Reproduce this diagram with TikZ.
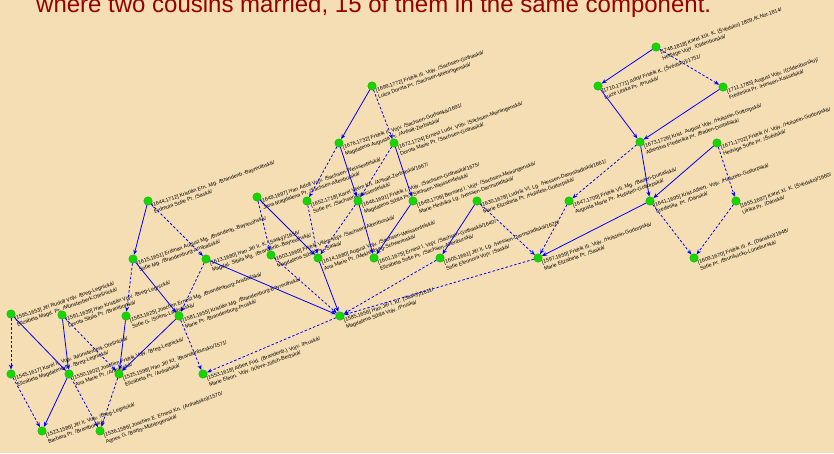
\documentclass[tikz,border=0pt]{standalone}
\usepackage{fontspec}
\setmainfont{Liberation Sans}
\usetikzlibrary{arrows.meta}
\definecolor{bg}{RGB}{245,222,179}
\definecolor{titlered}{RGB}{150,0,0}
\definecolor{dotgreen}{RGB}{20,215,0}
\definecolor{edgeblue}{RGB}{0,0,255}
\tikzset{
  person/.style={circle, fill=dotgreen, draw=dotgreen!75!black, line width=0.3pt, inner sep=0pt, minimum size=8.5pt},
  plabel/.style={anchor=north west, rotate=19.5, inner sep=0pt, align=left, font=\fontsize{5.3}{6.6}\selectfont},
  father/.style={draw=edgeblue, line width=0.8pt, -{Stealth[length=5pt,width=4pt]}},
  wife/.style={father, dash pattern=on 2.5pt off 2pt},
}
\newcommand{\pers}[5]{%
  \node[person] (#1) at (#2,#3) {};
  \node[plabel] (#1l) at (#2+3,#3+2.5) {#4\\#5};
}
\begin{document}
\begin{tikzpicture}[x=1pt,y=-1pt]
\fill[bg] (0,0) rectangle (834,453);
\useasboundingbox (0,0) rectangle (834,453);
\node[anchor=base west, inner sep=0pt, text=titlered, font=\fontsize{24}{24}\selectfont] (title) at (36,12) {where two cousins married, 15 of them in the same component.};

\pers{n1}{656}{47}{[1748,1818] Karel XIII. K. (Švédsko) 1809,/K.Nor.1814/}{Hedvige Vojv. /Oldenburská/}
\pers{n2}{598}{86}{[1710,1771] Adolf Fridrik K. (Švédsko)/1751/}{Luize Ulrika Pr. /Pruská/}
\pers{n3}{723}{87}{[1711,1785] August Vojv. /(Oldenbursko)/}{Frederika Pr. /Hessen-Kasselská/}
\pers{n4}{372}{86}{[1699,1772] Fridrik III. Vojv. /Sachsen-Gothaská/}{Luiza Dorota Pr. /Sachsen-Meiningenská/}
\pers{n5}{339}{143}{[1676,1732] Fridrik II. Vojv. /Sachsen-Gothaská/1691/}{Magdalena Augusta Pr. /Anhalt-Zerbstská/}
\pers{n6}{394}{143}{[1672,1724] Ernest Ludv. Vojv. /Sachsen-Meiningenská/}{Dorota Marie Pr. /Sachsen-Gothaská/}
\pers{n7}{640}{142}{[1673,1726] Krist. August Vojv. /Holstein-Gottorpská/}{Albertina Frederika Pr. /Baden-Durlašská/}
\pers{n8}{717}{143}{[1671,1702] Fridrik IV. Vojv. /Holstein-Gottorpská/}{Hedviga Sofie Pr. /Švédská/}
\pers{n9}{148}{201}{[1644,1712] Kristián Ern. Mg. /Brandenb.-Bayreuthská/}{Erdmuta Sofie Pr. /Saská/}
\pers{n10}{257}{197}{[1649,1697] Ivan Adolf Vojv. /Sachsen-Weissenfelská/}{Jana Magdalena Pr. /Sachsen-Altenburská/}
\pers{n11}{307}{201}{[1652,1718] Karel Vilém Kn. /Anhalt-Zerbstská/1667/}{Sofie Pr. /Sachsen-Weissenfelská/}
\pers{n12}{358}{201}{[1646,1691] Fridrik I. Vojv. /Sachsen-Gothaská/1675/}{Magdalena Sibila Pr. /Sachsen-Weissenfelská/}
\pers{n13}{413}{201}{[1649,1706] Bernard I. Vojv. /Sachsen-Meiningenská/}{Marie Hedvika Lg. /Hessen-Darmstadtská/}
\pers{n14}{477}{201}{[1630,1678] Ludvík VI. Lg. /Hessen-Darmstadtská/1661/}{Marie Elizabeta Pr. /Holstein-Gottorpská/}
\pers{n15}{569}{201}{[1647,1709] Fridrik VII. Mg. /Baden-Durlašská/}{Augusta Marie Pr. /Holstein-Gottorpská/}
\pers{n16}{650}{201}{[1641,1695] Krist.Albert. Vojv. /Holstein-Gottorpská/}{Frederika \ Pr. /Dánská/}
\pers{n17}{736}{201}{[1655,1697] Karel XI. K. (Švédsko)/1660/}{Ulrika Pr. /Dánská/}
\pers{n18}{694}{258}{[1609,1670] Fridrik III. K. (Dánsko)/1648/}{Sofie Pr. /Brunšvicko-Lüneburská/}
\pers{n19}{133}{259}{[1615,1651] Erdman August Mg. /Brandenb.-Bayreuthská/}{Sofie Mg. /Brandenburg-Ansbašská/}
\pers{n20}{206}{259}{[1613,1680] Ivan Jiří II. K. (Saský)/1656/}{Magdal. Sibila Mg. /Brandenb.-Bayreuthská/}
\pers{n21}{271}{255}{[1603,1669] Fridrik Vilém Vojv. /Sachsen-Altenburská/}{Magdalena Sibila Pr. /Saská/}
\pers{n22}{318}{258}{[1614,1680] August Vojv. /Sachsen-Weissenfelská/}{Ana Marie Pr. /Meklenburg-Schwerinská/}
\pers{n23}{374}{258}{[1601,1675] Ernest I. Vojv. /Sachsen-Gothaská/1640/}{Elizabeta Sofie Pr. /Sachsen-Altenburská/}
\pers{n24}{440}{258}{[1605,1661] Jiří II. Lg. /Hessen-Darmstadtská/1626/}{Sofie Eleonora Vojv. /Saská/}
\pers{n25}{538}{258}{[1597,1659] Fridrik III. Vojv. /Holstein-Gottorpská/}{Marie Elizabeta Pr. /Saská/}
\pers{n26}{11}{314}{[1595,1653] Jiří Rudolf Vojv. /Breg-Legnická/}{Elizabeta Magd. Pr. /Münsterberk-Olešnická/}
\pers{n27}{62}{315}{[1591,1639] Ivan Kristián Vojv. /Breg-Legnická/}{Dorota Sibila Pr. /Braniborská/}
\pers{n28}{126}{316}{[1583,1625] Joachim Ernest Mg. /Brandenburg-Ansbašská/}{Sofie G. /Solms-Laubašská/}
\pers{n29}{179}{316}{[1581,1655] Kristián Mg. /Brandenburg-Bayreuthská/}{Marie Pr. /Brandenburg-Pruská/}
\pers{n30}{11}{374}{[1545,1617] Karel II. Vojv. /Münsterberk-Olešnická/}{Elizabeta Magdalena Pr. /Breg-Legnická/}
\pers{n31}{69}{374}{[1550,1602] Joachim Fridrik Vojv. /Breg-Legnická/}{Ana Marie Pr. /Anhaltská/}
\pers{n32}{119}{374}{[1525,1598] Ivan Jiří Kf. /Brandenbursko/1571/}{Elizabeta Pr. /Anhaltská/}
\pers{n33}{203}{374}{[1553,1618] Albert Frid. (Brandenb.) Vojv. /Pruská/}{Marie Eleon. Vojv. /Kleve-Jülich-Beržská/}
\pers{n34}{42}{431}{[1523,1586] Jiří II. Vojv. /Breg-Legnická/}{Barbara Pr. /Braniborská/}
\pers{n35}{100}{431}{[1536,1586] Joachim E. Ernest Kn. (Anhaltsko)/1570/}{Agnes G. /Barby-Mühlingenská/}
\pers{n36}{340}{316}{[1585,1656] Ivan Jiří I. Kf. (Saský)/1611/}{Magdalena Sibila Vojv. /Pruská/}

% solid: father
\foreach \a/\b in {n1/n2, n2/n7, n3/n7, n7/n16, n8/n16, n16/n25, n14/n24, n4/n5, n5/n12, n6/n13, n12/n23, n13/n23, n10/n22, n9/n19, n19/n29, n20/n36, n22/n36, n26/n31, n27/n31, n28/n32, n29/n32, n31/n34}
  \draw[father] (\a) -- (\b);
% dashed
\foreach \a/\b in {n1/n3, n7/n15, n8/n17, n16/n18, n17/n18, n15/n25, n14/n25, n4/n6, n5/n11, n6/n12, n12/n22, n11/n22, n10/n21, n9/n20, n19/n28, n20/n29, n21/n36, n24/n36, n25/n36, n36/n33, n26/n30, n27/n32, n29/n33, n30/n34, n31/n35, n32/n35}
  \draw[wife] (\a) -- (\b);
\end{tikzpicture}
\end{document}
